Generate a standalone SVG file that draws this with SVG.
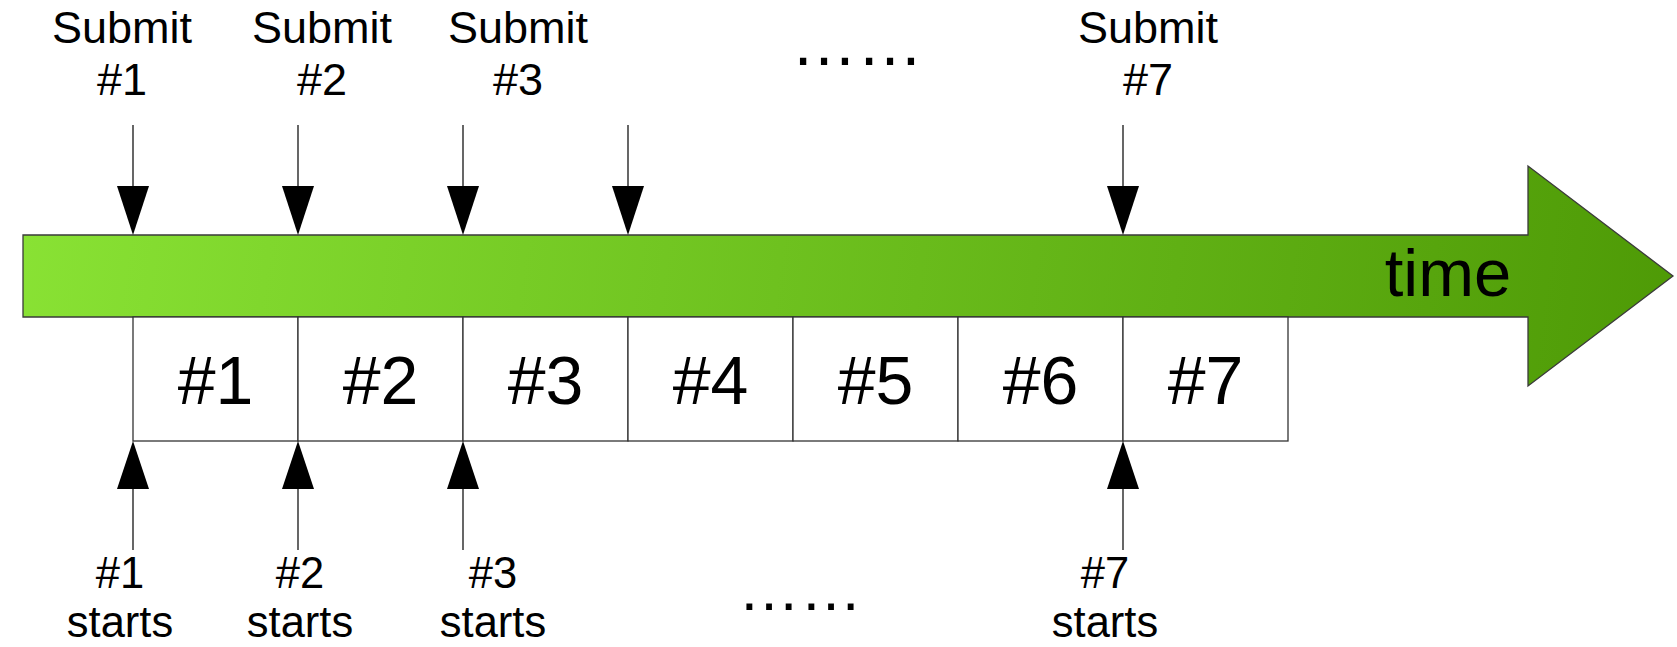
<svg xmlns="http://www.w3.org/2000/svg" width="1677" height="647" viewBox="0 0 1677 647">
<style>
text { font-family: "Liberation Sans", Arial, sans-serif; fill: #000; text-anchor: middle; }
.lbl { font-size: 45px; }
.lbl-b { font-size: 43.5px; }
.cell-t { font-size: 68px; }
.cell { fill: #fff; stroke: #333; stroke-width: 1.3; }
.conn line { stroke: #000; stroke-width: 1.2; }
.conn polygon { fill: #000; stroke: none; }
</style>
<defs>
<linearGradient id="g" gradientUnits="userSpaceOnUse" x1="23" y1="166" x2="1673" y2="386">
<stop offset="0" stop-color="#89e234"/>
<stop offset="1" stop-color="#4e9a06"/>
</linearGradient>
</defs>
<rect width="1677" height="647" fill="#fff"/>

<g id="time-arrow">
<polygon points="23,235 1528,235 1528,166 1673,276 1528,386 1528,317 23,317" fill="url(#g)" stroke="#3a3a3a" stroke-width="1.3"/>
<text x="1448" y="296" style="font-size:67px">time</text>
</g>

<g id="cells">
<g id="cell1"><rect class="cell" x="133" y="317" width="165" height="124"/><text class="cell-t" x="215.5" y="404">#1</text></g>
<g id="cell2"><rect class="cell" x="298" y="317" width="165" height="124"/><text class="cell-t" x="380.5" y="404">#2</text></g>
<g id="cell3"><rect class="cell" x="463" y="317" width="165" height="124"/><text class="cell-t" x="545.5" y="404">#3</text></g>
<g id="cell4"><rect class="cell" x="628" y="317" width="165" height="124"/><text class="cell-t" x="710.5" y="404">#4</text></g>
<g id="cell5"><rect class="cell" x="793" y="317" width="165" height="124"/><text class="cell-t" x="875.5" y="404">#5</text></g>
<g id="cell6"><rect class="cell" x="958" y="317" width="165" height="124"/><text class="cell-t" x="1040.5" y="404">#6</text></g>
<g id="cell7"><rect class="cell" x="1123" y="317" width="165" height="124"/><text class="cell-t" x="1205.5" y="404">#7</text></g>
</g>

<g id="connectors" class="conn">
<line x1="133" y1="125" x2="133" y2="188"/><polygon points="117,186 149,186 133,235"/>
<line x1="298" y1="125" x2="298" y2="188"/><polygon points="282,186 314,186 298,235"/>
<line x1="463" y1="125" x2="463" y2="188"/><polygon points="447,186 479,186 463,235"/>
<line x1="628" y1="125" x2="628" y2="188"/><polygon points="612,186 644,186 628,235"/>
<line x1="1123" y1="125" x2="1123" y2="188"/><polygon points="1107,186 1139,186 1123,235"/>
<line x1="133" y1="550" x2="133" y2="487"/><polygon points="117,489 149,489 133,441"/>
<line x1="298" y1="550" x2="298" y2="487"/><polygon points="282,489 314,489 298,441"/>
<line x1="463" y1="550" x2="463" y2="487"/><polygon points="447,489 479,489 463,441"/>
<line x1="1123" y1="550" x2="1123" y2="487"/><polygon points="1107,489 1139,489 1123,441"/>
</g>

<g id="submit1"><text class="lbl" x="122" y="43">Submit</text><text class="lbl" x="122" y="95">#1</text></g>
<g id="submit2"><text class="lbl" x="322" y="43">Submit</text><text class="lbl" x="322" y="95">#2</text></g>
<g id="submit3"><text class="lbl" x="518" y="43">Submit</text><text class="lbl" x="518" y="95">#3</text></g>
<g id="dots-top"><text x="857" y="65" style="font-size:66px">……</text></g>
<g id="submit7"><text class="lbl" x="1148" y="43">Submit</text><text class="lbl" x="1148" y="95">#7</text></g>

<g id="start1"><text class="lbl-b" x="120" y="588">#1</text><text class="lbl-b" x="120" y="637">starts</text></g>
<g id="start2"><text class="lbl-b" x="300" y="588">#2</text><text class="lbl-b" x="300" y="637">starts</text></g>
<g id="start3"><text class="lbl-b" x="493" y="588">#3</text><text class="lbl-b" x="493" y="637">starts</text></g>
<g id="dots-bottom"><text x="800" y="610" style="font-size:62px">……</text></g>
<g id="start7"><text class="lbl-b" x="1105" y="588">#7</text><text class="lbl-b" x="1105" y="637">starts</text></g>
</svg>
